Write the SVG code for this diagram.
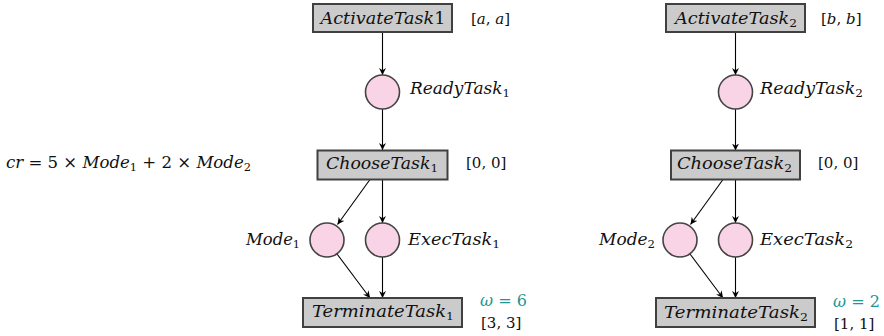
<svg xmlns="http://www.w3.org/2000/svg" width="884" height="336" viewBox="0 0 884 336">
<style>
.box{fill:#cbcbcb;stroke:#404040;stroke-width:2}
.place{fill:#f9d3e6;stroke:#444;stroke-width:1.6}
.edge{stroke:#000;stroke-width:1.1;fill:none;marker-end:url(#arr)}
text{font-family:'DejaVu Serif','Liberation Serif',serif;font-size:16px;fill:#111}
.it{font-style:italic}
.sub{font-size:11px}
.sm{font-size:15px}
.teal{fill:#1e9696}
</style>
<defs>
<marker id="arr" viewBox="0 0 8 8" markerWidth="7" markerHeight="7" refX="8" refY="4" orient="auto" markerUnits="userSpaceOnUse">
<path d="M0,0 L8,4 L0,8 L2.5,4 Z" fill="#000"/>
</marker>
</defs>
<rect width="884" height="336" fill="#fff"/>
<g id="connectors">
<line class="edge" x1="382.5" y1="32" x2="382.5" y2="75"/>
<line class="edge" x1="382.5" y1="109" x2="382.5" y2="150"/>
<line class="edge" x1="370" y1="179.5" x2="337.5" y2="224.5"/>
<line class="edge" x1="382.5" y1="179.5" x2="382.5" y2="223"/>
<line class="edge" x1="337" y1="254" x2="370" y2="298"/>
<line class="edge" x1="382.5" y1="257" x2="382.5" y2="298"/>
<line class="edge" x1="735.5" y1="32" x2="735.5" y2="75"/>
<line class="edge" x1="735.5" y1="109" x2="735.5" y2="150.5"/>
<line class="edge" x1="723" y1="179.5" x2="690.5" y2="224.5"/>
<line class="edge" x1="735.5" y1="179.5" x2="735.5" y2="223"/>
<line class="edge" x1="690" y1="254" x2="723" y2="298"/>
<line class="edge" x1="735.5" y1="257" x2="735.5" y2="298"/>
</g>
<g id="activate1">
<rect class="box" x="313" y="4" width="139" height="28"/>
<text x="320.5" y="24" textLength="125" lengthAdjust="spacingAndGlyphs"><tspan class="it">ActivateTask</tspan>1</text>
<text class="sm" x="471" y="24">[<tspan class="it">a</tspan>, <tspan class="it">a</tspan>]</text>
</g>
<g id="ready1">
<circle class="place" cx="382.5" cy="92" r="17"/>
<text x="410" y="94" textLength="100" lengthAdjust="spacingAndGlyphs"><tspan class="it">ReadyTask</tspan><tspan class="sub" dy="3">1</tspan></text>
</g>
<g id="choose1">
<rect class="box" x="317.5" y="150.5" width="130" height="29"/>
<text x="326" y="169" textLength="112" lengthAdjust="spacingAndGlyphs"><tspan class="it">ChooseTask</tspan><tspan class="sub" dy="3">1</tspan></text>
<text class="sm" x="466" y="168">[0, 0]</text>
</g>
<g id="formula">
<text x="6" y="168" textLength="245" lengthAdjust="spacingAndGlyphs"><tspan class="it">cr</tspan> = 5 × <tspan class="it">Mode</tspan><tspan class="sub" dy="3">1</tspan><tspan dy="-3"> + 2 × </tspan><tspan class="it">Mode</tspan><tspan class="sub" dy="3">2</tspan></text>
</g>
<g id="mode1">
<circle class="place" cx="327" cy="240" r="17"/>
<text x="246" y="245" textLength="54" lengthAdjust="spacingAndGlyphs"><tspan class="it">Mode</tspan><tspan class="sub" dy="3">1</tspan></text>
</g>
<g id="exec1">
<circle class="place" cx="382.5" cy="240" r="17"/>
<text x="408" y="245" textLength="92" lengthAdjust="spacingAndGlyphs"><tspan class="it">ExecTask</tspan><tspan class="sub" dy="3">1</tspan></text>
</g>
<g id="terminate1">
<rect class="box" x="303" y="298" width="159" height="29"/>
<text x="312" y="317" textLength="142" lengthAdjust="spacingAndGlyphs"><tspan class="it">TerminateTask</tspan><tspan class="sub" dy="3">1</tspan></text>
<text class="teal" x="480" y="306"><tspan class="it">ω</tspan> = 6</text>
<text class="sm" x="481" y="328">[3, 3]</text>
</g>
<g id="activate2">
<rect class="box" x="666" y="4" width="139" height="28"/>
<text x="675" y="24" textLength="122" lengthAdjust="spacingAndGlyphs"><tspan class="it">ActivateTask</tspan><tspan class="sub" dy="3">2</tspan></text>
<text class="sm" x="821" y="24">[<tspan class="it">b</tspan>, <tspan class="it">b</tspan>]</text>
</g>
<g id="ready2">
<circle class="place" cx="735.5" cy="92" r="17"/>
<text x="760" y="94" textLength="103" lengthAdjust="spacingAndGlyphs"><tspan class="it">ReadyTask</tspan><tspan class="sub" dy="3">2</tspan></text>
</g>
<g id="choose2">
<rect class="box" x="671" y="150.5" width="129" height="29"/>
<text x="677" y="169" textLength="115" lengthAdjust="spacingAndGlyphs"><tspan class="it">ChooseTask</tspan><tspan class="sub" dy="3">2</tspan></text>
<text class="sm" x="818" y="168">[0, 0]</text>
</g>
<g id="mode2">
<circle class="place" cx="680" cy="240" r="17"/>
<text x="599" y="245" textLength="56" lengthAdjust="spacingAndGlyphs"><tspan class="it">Mode</tspan><tspan class="sub" dy="3">2</tspan></text>
</g>
<g id="exec2">
<circle class="place" cx="735.5" cy="240" r="17"/>
<text x="760" y="245" textLength="93" lengthAdjust="spacingAndGlyphs"><tspan class="it">ExecTask</tspan><tspan class="sub" dy="3">2</tspan></text>
</g>
<g id="terminate2">
<rect class="box" x="656" y="298" width="159" height="29"/>
<text x="664" y="318" textLength="144" lengthAdjust="spacingAndGlyphs"><tspan class="it">TerminateTask</tspan><tspan class="sub" dy="3">2</tspan></text>
<text class="teal" x="833" y="307"><tspan class="it">ω</tspan> = 2</text>
<text class="sm" x="834" y="329">[1, 1]</text>
</g>
</svg>
